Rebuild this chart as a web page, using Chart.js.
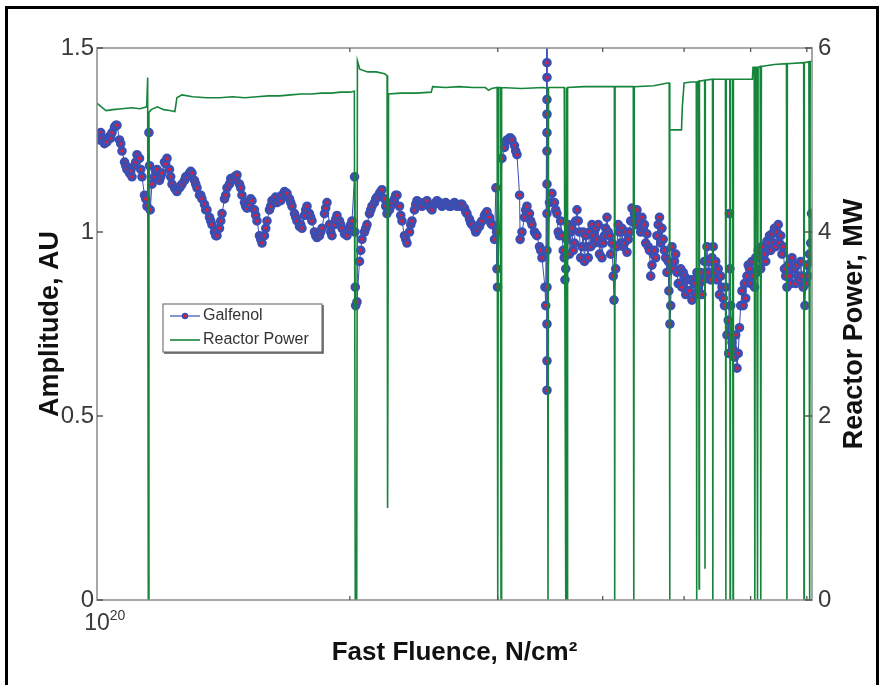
<!DOCTYPE html>
<html lang="en">
<head>
  <meta charset="UTF-8">
  <title>Galfenol amplitude and reactor power vs fast fluence</title>
  <style>
    body { margin: 0; background: #fff; }
    #wrap { width: 883px; height: 685px; }
  </style>
</head>
<body>
<div id="wrap"><canvas id="fluenceChart" width="883" height="685"></canvas></div>
<script src="https://cdn.jsdelivr.net/npm/chart.js"></script>
<script>
  // fast fluence in units of 1e20 N/cm2
  const galfenolFluence = [
    1.000, 1.0138, 1.0278, 1.0420, 1.0564, 1.0710, 1.0857, 1.1007, 1.1159, 1.1313,
    1.1469, 1.153, 1.155, 1.157, 1.1627, 1.1788, 1.1950, 1.2115, 1.2283, 1.2452,
    1.2624, 1.2798, 1.2975, 1.3154, 1.3335, 1.3519, 1.3706, 1.3895, 1.4087, 1.4281,
    1.4478, 1.4678, 1.4880, 1.5086, 1.5294, 1.5505, 1.5719, 1.5936, 1.6156, 1.6379,
    1.6605, 1.6834, 1.7067, 1.7302, 1.7541, 1.7783, 1.8028, 1.8277, 1.8529, 1.8785,
    1.9044, 1.9307, 1.9574, 1.9844, 2.0117, 2.026, 2.028, 2.030, 2.032, 2.0395,
    2.0677, 2.0962, 2.1251, 2.1545, 2.1842, 2.2143, 2.2449, 2.2759, 2.3073, 2.3391,
    2.3714, 2.4041, 2.4373, 2.4709, 2.5050, 2.5396, 2.5746, 2.6102, 2.6462, 2.6827,
    2.7197, 2.7573, 2.7953, 2.8339, 2.8730, 2.9126, 2.9528, 2.985, 2.990, 2.9936,
    2.998, 3.0349, 3.0768, 3.1192, 3.1623, 3.185, 3.190, 3.2059, 3.2502, 3.2950,
    3.3405, 3.3866, 3.4147,
    3.4334, 3.4334, 3.4334, 3.4334, 3.4334, 3.4334, 3.4334, 3.4334, 3.4334, 3.4334,
    3.4334, 3.4334, 3.4334, 3.4334,
    3.4807, 3.5288, 3.553, 3.5775, 3.600, 3.607, 3.6269, 3.652, 3.6769, 3.702,
    3.7277, 3.753, 3.7791, 3.805, 3.8313, 3.858, 3.8842, 3.911, 3.9378, 3.965,
    3.9921, 4.019, 4.0472, 4.075, 4.1031, 4.126, 4.1597, 4.188, 4.2171, 4.246,
    4.2753, 4.305, 4.3343, 4.364, 4.3941, 4.424, 4.4548, 4.485, 4.5163, 4.547,
    4.5786, 4.610, 4.6418, 4.674, 4.7058, 4.738, 4.7708, 4.796, 4.810, 4.8366,
    4.870, 4.9034, 4.937, 4.9710, 5.005, 5.0396, 5.074, 5.1092, 5.144, 5.1797,
    5.215, 5.2512, 5.287, 5.3236, 5.360, 5.3971, 5.434, 5.4716, 5.509, 5.5471,
    5.585, 5.6237, 5.650, 5.662, 5.670, 5.7013, 5.740, 5.7800, 5.820, 5.8597,
    5.900, 5.9406, 5.981, 6.0226, 6.064, 6.1057, 6.148, 6.1900, 6.233, 6.2754,
    6.319, 6.3620, 6.406, 6.4498, 6.494, 6.5388, 6.584, 6.6291, 6.675, 6.7206,
    6.767, 6.8133, 6.860, 6.9074, 6.964, 7.0027, 7.050, 7.090, 7.095
  ];
  const galfenolAmplitude = [
    1.26, 1.255, 1.245, 1.27, 1.29, 1.22, 1.17, 1.15, 1.21, 1.15,
    1.07, 1.27, 1.18, 1.06, 1.13, 1.17, 1.16, 1.20, 1.13, 1.11,
    1.13, 1.15, 1.16, 1.12, 1.09, 1.06, 1.02, 0.99, 1.05, 1.12,
    1.14, 1.155, 1.10, 1.065, 1.085, 1.03, 0.97, 1.03, 1.085, 1.08,
    1.10, 1.105, 1.07, 1.03, 1.01, 1.07, 1.03, 0.985, 1.01, 1.08,
    0.99, 1.045, 1.01, 0.99, 1.03, 1.15, 1.00, 0.85, 0.80, 0.81,
    0.98, 1.02, 1.07, 1.095, 1.115, 1.05, 1.08, 1.10, 1.03, 0.97,
    1.03, 1.085, 1.07, 1.085, 1.06, 1.085, 1.07, 1.075, 1.075, 1.07,
    1.075, 1.05, 1.02, 1.005, 1.03, 1.055, 1.02, 1.12, 1.00, 0.90,
    0.85, 1.20, 1.25, 1.25, 1.21, 1.10, 0.98, 1.00, 1.07, 1.02,
    0.99, 0.93, 0.85,
    1.55, 1.46, 1.42, 1.36, 1.32, 1.27, 1.22, 1.13, 1.05, 0.95,
    0.85, 0.75, 0.65, 0.57,
    1.105, 1.05, 0.99, 0.99, 0.93, 0.87, 0.98, 0.94, 1.01, 0.97,
    1.06, 1.00, 0.96, 0.92, 0.96, 1.00, 1.02, 0.97, 0.98, 0.94,
    0.93, 0.99, 1.04, 0.99, 0.97, 0.815, 0.96, 1.00, 1.01, 0.97,
    0.945, 1.00, 1.065, 1.05, 1.06, 1.03, 1.04, 1.02, 0.995, 0.95,
    0.91, 0.95, 0.99, 1.04, 1.01, 0.95, 0.89, 0.84, 0.75, 0.96,
    0.92, 0.89, 0.86, 0.85, 0.88, 0.87, 0.84, 0.815, 0.86, 0.89,
    0.86, 0.83, 0.92, 0.96, 0.92, 0.93, 0.89, 0.87, 0.83, 0.85,
    0.80, 0.72, 0.67, 1.05, 0.90, 0.70, 0.66, 0.63, 0.74, 0.84,
    0.86, 0.88, 0.90, 0.92, 0.85, 0.89, 0.93, 0.96, 0.94, 0.975,
    0.99, 0.995, 1.01, 1.00, 0.97, 0.94, 0.90, 0.85, 0.88, 0.93,
    0.90, 0.91, 0.87, 0.88, 0.80, 0.91, 0.94, 1.05, 0.92
  ];
  // extra readings taken between the samples above (the band is dense and noisy)
  const galfenolFillFluence = [
    1.0069, 1.0208, 1.0349, 1.0492, 1.0637, 1.0784, 1.0932, 1.1083, 1.1236, 1.1391,
    1.1707, 1.1869, 1.2032, 1.2198, 1.2367, 1.2538, 1.2711, 1.2886, 1.3064, 1.3244,
    1.3427, 1.3612, 1.3800, 1.3991, 1.4184, 1.4379, 1.4578, 1.4779, 1.4982, 1.5190,
    1.5399, 1.5611, 1.5826, 1.6044, 1.6267, 1.6491, 1.6719, 1.6950, 1.7183, 1.7421,
    1.7662, 1.7905, 1.8153, 1.8403, 1.8657, 1.8914, 1.9175, 1.9440, 1.9709, 1.9981,
    2.0535, 2.0819, 2.1106, 2.1397, 2.1692, 2.1992, 2.2295, 2.2603, 2.2916, 2.3232,
    2.3552, 2.3877, 2.4206, 2.4541, 2.4880, 2.5222, 2.5571, 2.5925, 2.6282, 2.6644,
    2.7012, 2.7385, 2.7763, 2.8145, 2.8533, 2.8928, 2.9329, 2.9731, 3.0558, 3.0980,
    3.1407, 3.2280, 3.2726, 3.3177, 3.3635, 3.4570, 3.5046,
    3.5652, 3.6145, 3.6644, 3.7149, 3.7662, 3.8181, 3.8708, 3.9243, 3.9785, 4.0333,
    4.0890, 4.1455, 4.2027, 4.2607, 4.3195, 4.3791, 4.4395, 4.5008, 4.5629, 4.6259,
    4.6897, 4.7544, 4.8201, 4.8866, 4.9540, 5.0223, 5.0916, 5.1620, 5.2332, 5.3054,
    5.3786, 5.4528, 5.5281, 5.6044, 5.6818, 5.7602, 5.8397, 5.9202, 6.0019, 6.0848,
    6.1688, 6.2539, 6.3402, 6.4277, 6.5164, 6.6063, 6.6976, 6.7900, 6.8838, 6.9789,
    7.0750,
    1.0103, 1.0243, 1.0384, 1.0528, 1.0673, 1.0821, 1.0969, 1.1121, 1.1274, 1.1430,
    1.1747, 1.1910, 1.2073, 1.2240, 1.2410, 1.2581, 1.2754, 1.2930, 1.3109, 1.3290,
    1.3473, 1.3659, 1.3848, 1.4039, 1.4233, 1.4429, 1.4628, 1.4830, 1.5034, 1.5242,
    1.5452, 1.5665, 1.5881, 1.6101, 1.6323, 1.6548, 1.6777, 1.7008, 1.7243, 1.7481,
    1.7722, 1.7967, 1.8214, 1.8466, 1.8720, 1.8979, 1.9241, 1.9506, 1.9776, 2.0049,
    2.0606, 2.0891, 2.1179, 2.1471, 2.1768, 2.2068, 2.2372, 2.2681, 2.2994, 2.3311,
    2.3633, 2.3959, 2.4289, 2.4625, 2.4964, 2.5309, 2.5658, 2.6012, 2.6372, 2.6735,
    2.7104, 2.7478, 2.7858, 2.8242, 2.8632, 2.9027, 2.9427, 3.0662, 3.1086, 3.1514,
    3.2390, 3.2838, 3.3290, 3.3750, 3.4216, 3.5166,
    3.5409, 3.5898, 3.6393, 3.6895, 3.7405, 3.7921, 3.8444, 3.8975, 3.9513, 4.0058,
    4.0611, 4.1172, 4.1740, 4.2316, 4.2900, 4.3492, 4.4092, 4.4701, 4.5318, 4.5943,
    4.6577, 4.7219, 4.7872, 4.8532, 4.9202, 4.9881, 5.0569, 5.1267, 5.1975, 5.2692,
    5.3419, 5.4156, 5.4904, 5.5661, 5.6430, 5.7209, 5.7998, 5.8798, 5.9610, 6.0433,
    6.1266, 6.2112, 6.2969, 6.3838, 6.4719, 6.5612, 6.6518, 6.7437, 6.8368, 6.9311,
    7.0267
  ];
  const galfenolFillAmplitude = [
    1.25, 1.24, 1.26, 1.285, 1.25, 1.19, 1.16, 1.18, 1.20, 1.10,
    1.15, 1.14, 1.19, 1.17, 1.12, 1.12, 1.14, 1.16, 1.14, 1.10,
    1.075, 1.04, 1.00, 1.01, 1.09, 1.13, 1.15, 1.13, 1.08, 1.075,
    1.06, 0.99, 0.99, 1.06, 1.09, 1.09, 1.11, 1.09, 1.05, 1.015,
    1.045, 1.05, 1.00, 0.99, 1.05, 1.02, 1.02, 1.03, 0.995, 1.01,
    0.92, 1.00, 1.05, 1.08, 1.105, 1.09, 1.06, 1.09, 1.07, 0.99,
    1.00, 1.06, 1.08, 1.08, 1.07, 1.075, 1.08, 1.075, 1.07, 1.08,
    1.07, 1.065, 1.035, 1.01, 1.015, 1.045, 1.04, 0.98, 1.23, 1.255,
    1.235, 1.04, 1.05, 1.00, 0.96, 1.08, 1.08,
    1.03, 0.90, 1.00, 1.03, 0.93, 0.99, 0.96, 1.01, 0.97, 1.01,
    0.94, 0.90, 0.97, 1.00, 1.03, 1.02, 1.00, 0.97, 0.88, 0.93,
    0.97, 0.93, 0.80, 0.94, 0.90, 0.83, 0.87, 0.83, 0.89, 0.88,
    0.87, 0.92, 0.88, 0.85, 0.80, 0.72, 0.80, 0.82, 0.86, 0.93,
    0.90, 0.92, 0.95, 0.96, 0.99, 0.88, 0.86, 0.86, 0.92, 0.86,
    0.97,
    1.27, 1.25, 1.255, 1.29, 1.24, 1.18, 1.165, 1.19, 1.17, 1.09,
    1.165, 1.15, 1.185, 1.15, 1.115, 1.125, 1.15, 1.165, 1.13, 1.10,
    1.06, 1.03, 0.99, 1.03, 1.10, 1.145, 1.145, 1.12, 1.07, 1.09,
    1.045, 0.98, 1.01, 1.07, 1.095, 1.085, 1.10, 1.08, 1.04, 1.02,
    1.06, 1.04, 0.99, 1.00, 1.065, 1.00, 1.035, 1.02, 0.995, 1.02,
    0.95, 1.01, 1.06, 1.09, 1.11, 1.07, 1.07, 1.10, 1.045, 0.98,
    1.02, 1.075, 1.075, 1.08, 1.065, 1.08, 1.075, 1.08, 1.07, 1.075,
    1.075, 1.055, 1.025, 1.00, 1.025, 1.05, 1.025, 1.245, 1.255, 1.22,
    1.06, 1.03, 0.995, 0.95, 0.80, 1.06,
    1.00, 0.95, 1.02, 0.95, 1.03, 1.00, 0.93, 0.99, 1.02, 0.97,
    1.00, 0.88, 1.02, 0.96, 0.98, 1.03, 1.04, 1.01, 0.96, 0.94,
    1.02, 0.98, 0.92, 0.90, 0.86, 0.89, 0.84, 0.87, 0.84, 0.87,
    0.89, 0.96, 0.90, 0.82, 0.76, 0.68, 0.67, 0.80, 0.91, 0.88,
    0.95, 0.92, 0.97, 0.97, 1.02, 0.96, 0.91, 0.90, 0.88, 0.85,
    0.88
  ];

  const powerFluence = [
    1.000, 1.012, 1.025, 1.045, 1.070, 1.100, 1.125, 1.146, 1.149, 1.151,
    1.153, 1.160, 1.180, 1.200, 1.220, 1.238, 1.245, 1.262, 1.300, 1.350,
    1.400, 1.450, 1.500, 1.550, 1.600, 1.650, 1.700, 1.750, 1.800, 1.850,
    1.900, 1.950, 2.000, 2.025, 2.030, 2.038, 2.042, 2.055, 2.100, 2.150,
    2.200, 2.215, 2.218, 2.224, 2.300, 2.400, 2.500, 2.510, 2.600, 2.700,
    2.800, 2.900, 2.925, 2.950, 2.995, 3.000, 3.006, 3.022, 3.027, 3.032,
    3.200, 3.400, 3.438, 3.443, 3.448, 3.600, 3.615, 3.620, 3.628, 3.633,
    3.800, 4.000, 4.130, 4.134, 4.138, 4.350, 4.356, 4.362, 4.600, 4.780,
    4.800, 4.806, 4.810, 4.965, 4.975, 5.000, 5.100, 5.170, 5.176, 5.182,
    5.205, 5.210, 5.215, 5.290, 5.295, 5.300, 5.405, 5.410, 5.416, 5.600,
    5.607, 5.612, 5.668, 5.672, 5.678, 5.712, 5.718, 5.724, 6.000, 6.030,
    6.040, 6.060, 6.070, 6.080, 6.100, 6.115, 6.125, 6.160, 6.170, 6.180,
    6.400, 6.620, 6.628, 6.636, 6.940, 6.946, 6.952, 7.040, 7.055, 7.065,
    7.100
  ];
  const powerMW = [
    5.40, 5.36, 5.32, 5.33, 5.34, 5.35, 5.34, 5.36, 5.68, 0,
    5.30, 5.33, 5.36, 5.33, 5.32, 5.31, 5.46, 5.49, 5.47, 5.46,
    5.46, 5.47, 5.46, 5.47, 5.48, 5.48, 5.49, 5.50, 5.50, 5.51,
    5.51, 5.52, 5.52, 5.53, 0, 0, 5.86, 5.77, 5.74, 5.74,
    5.72, 5.70, 1.0, 5.50, 5.51, 5.51, 5.52, 5.58, 5.57, 5.58,
    5.57, 5.57, 5.54, 5.56, 5.57, 0, 5.57, 5.57, 0, 5.57,
    5.56, 5.57, 5.56, 0, 5.57, 5.57, 0, 5.57, 0, 5.57,
    5.58, 5.58, 5.58, 0, 5.58, 5.58, 0, 5.58, 5.59, 5.62,
    5.62, 0, 5.11, 5.11, 5.35, 5.62, 5.63, 5.63, 0, 5.63,
    5.64, 0.12, 5.64, 5.65, 0.34, 5.65, 5.66, 0, 5.66, 5.66,
    0, 5.66, 5.66, 0, 5.66, 5.66, 0, 5.66, 5.66, 5.66,
    5.79, 5.79, 0, 5.79, 5.79, 0, 5.79, 5.80, 0, 5.80,
    5.82, 5.83, 0, 5.83, 5.84, 0, 5.84, 5.85, 0, 5.85,
    5.86
  ];

  const amplitudeTicks = [0, 0.5, 1, 1.5];
  const powerTicks = [0, 2, 4, 6];
  const fluenceMinorTicks = [2, 3, 4, 5, 6, 7];

  const FONT = "'Liberation Sans', Arial, sans-serif";
  const BLUE = '#3b4fb2';
  const RED = '#d8203c';
  const GREEN = '#16843a';

  function toPoints(xs, ys) {
    return xs.map((x, i) => ({ x: x, y: ys[i] }));
  }

  const galfenolPoints = toPoints(
    galfenolFluence.concat(galfenolFillFluence),
    galfenolAmplitude.concat(galfenolFillAmplitude)
  ).sort((p, q) => p.x - q.x);

  // white page and black outer frame
  const framePlugin = {
    id: 'frame',
    beforeDraw(chart) {
      const ctx = chart.ctx;
      ctx.save();
      ctx.fillStyle = '#fff';
      ctx.fillRect(0, 0, chart.width, chart.height);
      ctx.strokeStyle = '#000';
      ctx.lineWidth = 3;
      ctx.beginPath();
      ctx.moveTo(6.5, 700);
      ctx.lineTo(6.5, 7.5);
      ctx.lineTo(877.5, 7.5);
      ctx.lineTo(877.5, 700);
      ctx.stroke();
      ctx.restore();
    }
  };

  // matlab style axes box, inward ticks, 10^20 label, right title and legend
  const boxPlugin = {
    id: 'box',
    afterDraw(chart) {
      const ctx = chart.ctx;
      const a = chart.chartArea;
      const sx = chart.scales.x, sy = chart.scales.y, sy2 = chart.scales.y2;
      ctx.save();
      ctx.strokeStyle = '#8a8a8a';
      ctx.lineWidth = 1.5;
      ctx.strokeRect(a.left, a.top, a.right - a.left, a.bottom - a.top);

      ctx.strokeStyle = '#555';
      ctx.lineWidth = 1.3;
      ctx.beginPath();
      amplitudeTicks.forEach(v => {
        const y = sy.getPixelForValue(v);
        ctx.moveTo(a.left, y); ctx.lineTo(a.left + 6, y);
      });
      powerTicks.forEach(v => {
        const y = sy2.getPixelForValue(v);
        ctx.moveTo(a.right, y); ctx.lineTo(a.right - 7, y);
      });
      fluenceMinorTicks.forEach(v => {
        const x = sx.getPixelForValue(v);
        ctx.moveTo(x, a.bottom); ctx.lineTo(x, a.bottom - 4);
        ctx.moveTo(x, a.top); ctx.lineTo(x, a.top + 4);
      });
      ctx.stroke();

      // first decade label under the x axis
      const x0 = sx.getPixelForValue(1);
      ctx.fillStyle = '#3a3a3a';
      ctx.textBaseline = 'alphabetic';
      ctx.textAlign = 'center';
      ctx.font = '23px ' + FONT;
      ctx.fillText('10', x0, 630);
      const w10 = ctx.measureText('10').width;
      ctx.textAlign = 'left';
      ctx.font = '14px ' + FONT;
      ctx.fillText('20', x0 + w10 / 2, 620);

      // right axis title, reads bottom to top
      ctx.fillStyle = '#111';
      ctx.font = 'bold 27px ' + FONT;
      ctx.textAlign = 'center';
      ctx.textBaseline = 'middle';
      ctx.translate(855, (a.top + a.bottom) / 2);
      ctx.rotate(-Math.PI / 2);
      ctx.fillText('Reactor Power, MW', 0, 0);
      ctx.restore();

      // legend
      ctx.save();
      const lx = 163, ly = 304, lw = 159, lh = 48;
      ctx.fillStyle = '#fff';
      ctx.fillRect(lx, ly, lw, lh);
      ctx.strokeStyle = '#777';
      ctx.lineWidth = 1.2;
      ctx.strokeRect(lx, ly, lw, lh);
      ctx.strokeStyle = '#555';
      ctx.lineWidth = 1.5;
      ctx.beginPath();
      ctx.moveTo(lx + 1, ly + lh + 1); ctx.lineTo(lx + lw + 1, ly + lh + 1); ctx.lineTo(lx + lw + 1, ly + 1);
      ctx.stroke();

      ctx.lineWidth = 1.2;
      ctx.strokeStyle = BLUE;
      ctx.beginPath(); ctx.moveTo(170, 316); ctx.lineTo(200, 316); ctx.stroke();
      ctx.beginPath(); ctx.arc(185, 316, 2.5, 0, Math.PI * 2);
      ctx.fillStyle = RED; ctx.fill();
      ctx.lineWidth = 1.5; ctx.strokeStyle = BLUE; ctx.stroke();
      ctx.lineWidth = 1.6;
      ctx.strokeStyle = GREEN;
      ctx.beginPath(); ctx.moveTo(170, 340); ctx.lineTo(200, 340); ctx.stroke();

      ctx.fillStyle = '#333';
      ctx.font = '16px ' + FONT;
      ctx.textAlign = 'left';
      ctx.textBaseline = 'middle';
      ctx.fillText('Galfenol', 203, 316);
      ctx.fillText('Reactor Power', 203, 340);
      ctx.restore();
    }
  };

  const ctx = document.getElementById('fluenceChart').getContext('2d');
  new Chart(ctx, {
    type: 'line',
    data: {
      datasets: [{
        label: 'Galfenol',
        data: galfenolPoints,
        yAxisID: 'y',
        order: 1,
        borderColor: BLUE,
        borderWidth: 1,
        pointRadius: 3.3,
        pointBorderWidth: 3,
        pointBorderColor: BLUE,
        pointBackgroundColor: RED,
        tension: 0
      }, {
        label: 'Reactor Power',
        data: toPoints(powerFluence, powerMW),
        yAxisID: 'y2',
        order: 0,
        borderColor: GREEN,
        borderWidth: 1.6,
        pointRadius: 0,
        tension: 0
      }]
    },
    options: {
      responsive: false,
      animation: false,
      layout: { padding: { top: 48, left: 0, right: 0, bottom: 0 } },
      plugins: { legend: { display: false }, tooltip: { enabled: false } },
      scales: {
        x: {
          type: 'logarithmic',
          min: 1,
          max: 7.1,
          grid: { display: false, drawTicks: false },
          border: { display: false },
          ticks: { display: false },
          title: {
            display: true,
            text: 'Fast Fluence, N/cm²',
            color: '#111',
            font: { family: FONT, size: 26, weight: 'bold' },
            padding: { top: 0, bottom: 17 }
          },
          afterFit: (s) => { s.height = 85; }
        },
        y: {
          position: 'left',
          min: 0,
          max: 1.5,
          grid: { display: false, drawTicks: false },
          border: { display: false },
          ticks: {
            stepSize: 0.5,
            padding: 3,
            color: '#3a3a3a',
            font: { family: FONT, size: 24 },
            callback: (v) => String(v)
          },
          title: {
            display: true,
            text: 'Amplitude, AU',
            color: '#111',
            font: { family: FONT, size: 27, weight: 'bold' },
            padding: { top: 34, bottom: 0 }
          },
          afterFit: (s) => { s.width = 97; }
        },
        y2: {
          position: 'right',
          min: 0,
          max: 6,
          grid: { display: false, drawTicks: false },
          border: { display: false },
          ticks: {
            stepSize: 2,
            padding: 6,
            color: '#3a3a3a',
            font: { family: FONT, size: 24 },
            callback: (v) => String(v)
          },
          afterFit: (s) => { s.width = 71; }
        }
      }
    },
    plugins: [framePlugin, boxPlugin]
  });
</script>
</body>
</html>
